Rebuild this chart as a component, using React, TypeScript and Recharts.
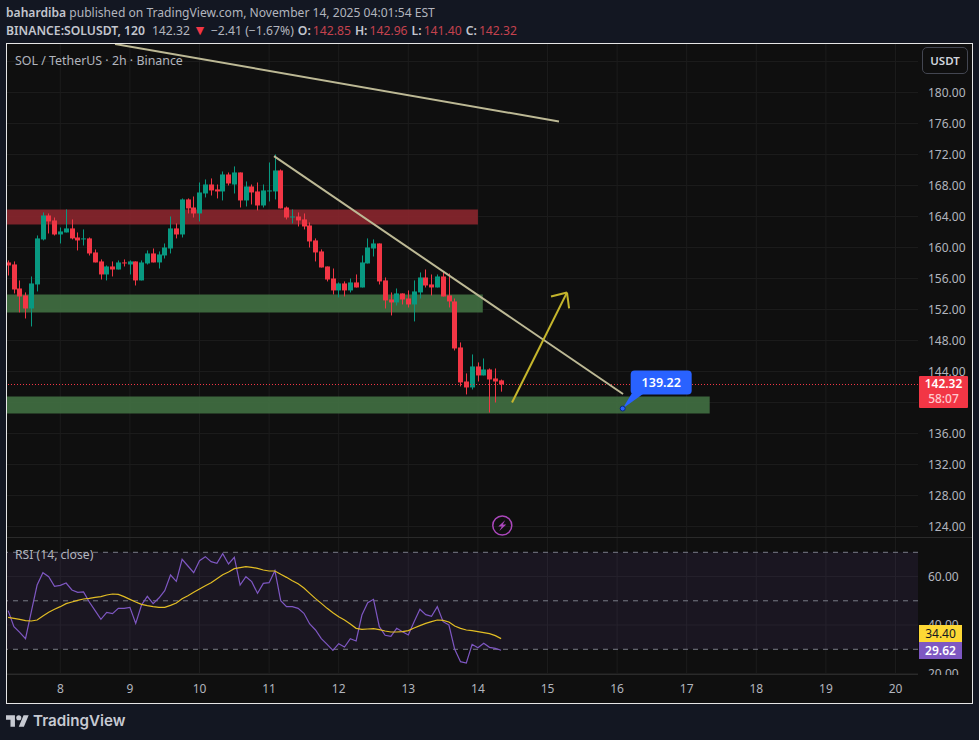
import {
  Bar,
  CartesianGrid,
  ComposedChart,
  Line,
  ReferenceArea,
  ReferenceDot,
  ReferenceLine,
  XAxis,
  YAxis
} from "recharts";

// 2h candles, first bar is Nov 7 06:00
const firstBarDay = 7.25;
const barStepDays = 1 / 12;

const opens = [
  158.07, 157.81, 154.71, 153.81, 152.13, 155.23, 161.04, 164.13, 163.49, 161.68,
  161.94, 162.46, 161.29, 161.04, 161.17, 159.36, 158.2, 156.52, 157.55, 157.16,
  158.07, 157.81, 158.2, 155.75, 157.94, 159.23, 158.07, 158.97, 159.87, 162.46,
  161.68, 166.2, 165.16, 164.39, 166.97, 168.13, 167.49, 167.23, 169.42, 168.13,
  169.68, 166.07, 167.87, 167.23, 165.42, 167.23, 167.23, 169.94, 165.16, 163.87,
  164.0, 163.62, 162.84, 160.91, 159.49, 157.55, 156.0, 154.46, 155.36, 154.46,
  155.49, 154.84, 157.94, 159.87, 160.52, 155.75, 153.29, 152.91, 154.07, 153.42,
  152.65, 154.2, 156.13, 155.23, 154.84, 156.26, 153.81, 153.04, 147.1, 142.71,
  141.94, 144.65, 143.49, 144.26, 143.1, 142.85
];
const highs = [
  158.33, 158.2, 155.75, 154.2, 156.26, 161.55, 164.52, 164.39, 163.87, 162.58,
  164.91, 163.62, 161.94, 162.33, 161.29, 159.75, 158.46, 157.68, 158.2, 158.33,
  158.46, 158.33, 158.2, 158.33, 159.62, 159.87, 159.49, 160.52, 164.0, 163.1,
  166.33, 166.33, 166.58, 168.39, 168.78, 168.91, 168.13, 169.81, 169.68, 170.46,
  169.68, 168.52, 168.13, 168.39, 168.13, 170.97, 172.0, 170.07, 165.29, 164.91,
  164.52, 164.39, 163.23, 161.17, 159.75, 157.55, 157.29, 155.49, 155.62, 156.0,
  156.52, 158.97, 161.17, 161.04, 160.52, 156.13, 154.2, 154.71, 154.07, 154.46,
  155.75, 156.78, 157.16, 156.52, 156.52, 156.91, 156.65, 153.42, 147.75, 143.75,
  146.2, 145.17, 145.68, 144.39, 144.39, 142.96
];
const lows = [
  156.39, 154.07, 151.62, 150.84, 149.81, 154.33, 160.91, 161.81, 161.55, 160.52,
  161.94, 161.04, 159.62, 160.26, 158.97, 158.07, 155.87, 155.75, 156.26, 157.16,
  157.55, 156.52, 155.1, 155.75, 157.81, 158.07, 157.29, 158.58, 159.23, 161.17,
  161.29, 164.39, 163.87, 163.36, 166.46, 166.71, 166.33, 166.07, 168.0, 166.97,
  165.16, 165.29, 165.55, 164.78, 165.16, 165.94, 166.2, 165.04, 163.62, 163.1,
  162.71, 162.33, 160.0, 158.2, 157.42, 155.62, 153.94, 153.55, 153.68, 154.2,
  154.84, 154.84, 157.94, 158.84, 155.23, 152.13, 151.23, 152.52, 152.65, 152.26,
  150.46, 153.42, 154.84, 153.81, 154.84, 153.68, 152.26, 146.71, 142.07, 141.04,
  141.68, 142.71, 143.49, 138.71, 140.0, 141.4
];
const closes = [
  157.68, 154.58, 153.68, 152.13, 155.36, 161.17, 164.13, 163.36, 161.68, 162.07,
  162.46, 161.17, 160.91, 161.17, 159.23, 158.07, 156.52, 157.55, 157.16, 158.07,
  157.94, 158.2, 155.75, 158.07, 159.23, 158.07, 159.1, 160.0, 162.46, 161.68,
  166.2, 165.04, 164.39, 167.1, 168.13, 167.36, 167.23, 169.42, 168.26, 169.68,
  166.07, 167.87, 167.1, 165.42, 167.36, 167.36, 169.94, 165.04, 163.87, 164.0,
  163.49, 162.71, 160.78, 159.36, 157.42, 155.87, 154.46, 155.36, 154.46, 155.49,
  154.84, 158.07, 160.0, 160.52, 155.62, 153.17, 152.91, 154.07, 153.29, 152.65,
  154.33, 156.13, 155.1, 154.84, 156.26, 153.68, 153.04, 146.97, 142.59, 141.94,
  144.65, 143.49, 144.26, 142.97, 142.71, 142.32
];
const rsiValues = [
  45.93, 39.33, 36.99, 34.38, 45.52, 56.51, 61.6, 59.95, 55.96, 56.38,
  57.34, 54.45, 53.49, 53.63, 49.5, 45.93, 42.35, 45.24, 44.69, 46.89,
  46.89, 47.3, 40.7, 48.27, 51.84, 48.82, 51.15, 54.18, 60.64, 58.02,
  67.1, 64.35, 61.6, 66.55, 68.2, 66.14, 65.45, 69.43, 65.17, 67.92,
  56.51, 59.95, 57.89, 53.08, 57.2, 57.48, 62.42, 50.05, 47.58, 47.58,
  46.89, 44.83, 40.43, 37.96, 34.38, 32.05, 29.57, 32.32, 30.95, 34.38,
  33.42, 44.14, 49.23, 50.6, 39.33, 35.76, 35.34, 38.64, 37.27, 35.89,
  41.39, 46.48, 44.28, 43.59, 47.58, 41.39, 40.02, 29.98, 24.9, 24.35,
  32.05, 30.67, 32.46, 30.81, 30.4, 29.62
];
const rsiMaValues = [
  43.18, 42.77, 42.35, 41.8, 41.67, 42.08, 43.73, 45.24, 46.48, 47.58,
  48.82, 49.5, 50.19, 50.74, 51.01, 51.43, 51.7, 52.39, 52.8, 52.66,
  51.7, 50.6, 49.5, 48.54, 47.99, 47.58, 47.3, 47.3, 48.13, 49.09,
  50.88, 52.11, 53.49, 54.86, 56.24, 57.48, 59.12, 60.77, 61.87, 63.25,
  63.66, 64.07, 63.8, 63.39, 62.7, 62.29, 62.29, 60.91, 59.67, 58.3,
  57.06, 55.28, 53.08, 50.88, 48.95, 46.89, 45.1, 43.45, 42.08, 40.43,
  38.64, 38.23, 38.37, 38.51, 38.09, 37.54, 37.13, 37.13, 37.27, 37.68,
  38.78, 39.74, 40.7, 41.39, 42.08, 41.94, 41.25, 39.6, 38.64, 37.96,
  37.68, 37.27, 36.86, 36.44, 35.62, 34.4
];

const dayTicks = [8, 9, 10, 11, 12, 13, 14, 15, 16, 17, 18, 19, 20];
const priceTicks = [184, 180, 176, 172, 168, 164, 160, 156, 152, 148, 144, 140, 136, 132, 128, 124];
const hiddenPriceLabels = [184, 140]; // sit under the USDT button and the price tag
const rsiTicks = [60, 40, 20];
const rsiLevels = [70, 50, 30];

const lastPrice = 142.32;

const candleData = opens.map((open, i) => ({
  day: firstBarDay + i * barStepDays,
  open,
  high: highs[i],
  low: lows[i],
  close: closes[i],
  range: [lows[i], highs[i]]
}));

const rsiData = rsiValues.map((rsi, i) => ({
  day: firstBarDay + i * barStepDays,
  rsi,
  ma: rsiMaValues[i]
}));

const dayDomain = [7.234, 20.323];
const priceDomain = [122.645, 186.255];
const rsiDomain = [19.6, 75.9];

const UP = "#089981";
const DOWN = "#f23645";
const GRID = "#1c1c1c";
const TEXT = "#b2b5be";
const FONT = "'Noto Sans', sans-serif";
const TREND = "#bdb995";
const ARROW = "#c4b52c";

function Candle(props: any) {
  const { x, y, width, height, payload } = props;
  const { open, close, high, low } = payload;
  const perUnit = height / (high - low);
  const top = y + (high - Math.max(open, close)) * perUnit;
  const bodyH = Math.max(Math.abs(open - close) * perUnit, 1);
  const cx = Math.round(x + width / 2);
  const color = close >= open ? UP : DOWN;
  return (
    <g>
      <rect x={cx} y={y} width={1} height={height} fill={color} />
      <rect x={cx - 2} y={top} width={5} height={bodyH} fill={color} />
    </g>
  );
}

function Callout(props: any) {
  const { cx, cy } = props;
  return (
    <g>
      <path d={`M${cx} ${cy}L${cx + 21} ${cy - 15}H${cx + 9}Z`} fill="#2962ff" />
      <rect x={cx + 8} y={cy - 38} width={61} height={24} rx={4} fill="#2962ff" />
      <circle cx={cx} cy={cy} r={2.5} fill="#2962ff" stroke="#0d2a7a" strokeWidth={1} />
      <text x={cx + 38.5} y={cy - 21.5} textAnchor="middle" fill="#fff" fontSize={12.5} fontWeight={600} fontFamily={FONT}>
        139.22
      </text>
    </g>
  );
}

function BoltMark(props: any) {
  const { cx, cy } = props;
  return (
    <g>
      <circle cx={cx} cy={cy} r={9.5} fill="none" stroke="#ab47bc" strokeWidth={1.5} />
      <path
        d={`M${cx + 3} ${cy - 5.5}L${cx - 4} ${cy + 1}H${cx - 0.5}L${cx - 3} ${cy + 5.5}L${cx + 4} ${cy - 1}H${cx + 0.5}Z`}
        fill="#ab47bc"
      />
    </g>
  );
}

function Box({ style, children }: { style: any; children?: any }) {
  return <div style={{ position: "absolute", ...style }}>{children}</div>;
}

export default function App() {
  const red = { color: "#c4424e" };
  const bold = { fontWeight: 600, color: "#c3c6ce" };
  const gap = { marginLeft: 4 };
  return (
    <div style={{ position: "absolute", left: 0, top: 0, width: 979, height: 740, background: "#131722", overflow: "hidden", fontFamily: FONT }}>
      <Box style={{ left: 6, top: 4, fontSize: 12.1, lineHeight: "17px", color: TEXT, whiteSpace: "nowrap" }}>
        <span style={bold}>bahardiba</span> published on TradingView.com, November 14, 2025 04:01:54 EST
      </Box>
      <Box style={{ left: 6, top: 21, fontSize: 12.2, lineHeight: "17px", color: TEXT, whiteSpace: "nowrap" }}>
        <span style={bold}>BINANCE:SOLUSDT, 120</span>
        <span style={{ marginLeft: 7 }}>142.32</span>
        <span style={{ color: DOWN, fontSize: 14, marginLeft: 3 }}>▼</span>
        <span style={gap}>−2.41 (−1.67%)</span>
        <span style={{ ...bold, ...gap }}>O:</span>
        <span style={{ ...red, marginLeft: 2 }}>142.85</span>
        <span style={{ ...bold, ...gap }}>H:</span>
        <span style={{ ...red, marginLeft: 2 }}>142.96</span>
        <span style={{ ...bold, ...gap }}>L:</span>
        <span style={{ ...red, marginLeft: 2 }}>141.40</span>
        <span style={{ ...bold, ...gap }}>C:</span>
        <span style={{ ...red, marginLeft: 2 }}>142.32</span>
      </Box>

      <Box style={{ left: 6, top: 43, width: 965, height: 659, background: "#0f0f0f", border: "1px solid #e6e6e6", boxSizing: "content-box" }} />

      <Box style={{ left: 7, top: 44 }}>
        <ComposedChart width={965} height={493} data={candleData} margin={{ top: 0, right: 0, bottom: 0, left: 0 }}>
          <CartesianGrid stroke={GRID} horizontalValues={priceTicks} verticalValues={dayTicks} />
          <XAxis dataKey="day" type="number" domain={dayDomain} allowDataOverflow ticks={dayTicks} hide />
          <YAxis
            orientation="right"
            width={54}
            domain={priceDomain}
            allowDataOverflow
            ticks={priceTicks}
            interval={0}
            axisLine={false}
            tickLine={false}
            tickMargin={4}
            tick={{ fill: TEXT, fontSize: 12, fontFamily: FONT }}
            tickFormatter={(v: number) => (hiddenPriceLabels.includes(v) ? "" : v.toFixed(2))}
          />
          <ReferenceArea x1={7.234} x2={14} y1={162.97} y2={164.9} fill="#84252c" fillOpacity={0.95} stroke="none" />
          <ReferenceArea x1={7.234} x2={14.07} y1={151.61} y2={153.94} fill="#3f6c40" fillOpacity={0.95} stroke="none" />
          <ReferenceArea x1={7.234} x2={17.33} y1={138.58} y2={140.77} fill="#3f6c40" fillOpacity={0.95} stroke="none" />
          <ReferenceLine y={lastPrice} stroke={DOWN} strokeDasharray="1 2" />
          <Bar dataKey="range" barSize={5} shape={Candle} isAnimationActive={false} />
          <ReferenceLine segment={[{ x: 8.786, y: 186.255 }, { x: 15.165, y: 176.26 }]} stroke={TREND} strokeWidth={2} ifOverflow="visible" />
          <ReferenceLine segment={[{ x: 11.07, y: 171.78 }, { x: 16.085, y: 141.1 }]} stroke={TREND} strokeWidth={2} ifOverflow="visible" />
          <ReferenceLine segment={[{ x: 14.49, y: 140 }, { x: 15.28, y: 154.19 }]} stroke={ARROW} strokeWidth={2} ifOverflow="visible" />
          <ReferenceLine segment={[{ x: 15.05, y: 153.68 }, { x: 15.28, y: 154.19 }]} stroke={ARROW} strokeWidth={2} ifOverflow="visible" />
          <ReferenceLine segment={[{ x: 15.31, y: 152.13 }, { x: 15.28, y: 154.19 }]} stroke={ARROW} strokeWidth={2} ifOverflow="visible" />
          <ReferenceDot x={16.08} y={139.22} r={3} shape={Callout} ifOverflow="visible" />
          <ReferenceDot x={14.35} y={124.13} r={9} shape={BoltMark} ifOverflow="visible" />
        </ComposedChart>
      </Box>

      <Box style={{ left: 7, top: 537, width: 965, height: 1, background: "#2a2a2a" }} />

      <Box style={{ left: 7, top: 538 }}>
        <ComposedChart width={965} height={165} data={rsiData} margin={{ top: 0, right: 0, bottom: 0, left: 0 }}>
          <CartesianGrid stroke={GRID} horizontalValues={rsiTicks} verticalValues={dayTicks} />
          <XAxis
            dataKey="day"
            type="number"
            domain={dayDomain}
            allowDataOverflow
            ticks={dayTicks}
            interval={0}
            height={28.5}
            axisLine={false}
            tickLine={false}
            tickMargin={4}
            tick={{ fill: TEXT, fontSize: 12, fontFamily: FONT }}
          />
          <YAxis
            orientation="right"
            width={54}
            domain={rsiDomain}
            allowDataOverflow
            ticks={rsiTicks}
            interval={0}
            axisLine={false}
            tickLine={false}
            tickMargin={4}
            tick={{ fill: TEXT, fontSize: 12, fontFamily: FONT }}
            tickFormatter={(v: number) => v.toFixed(2)}
          />
          <ReferenceArea y1={30} y2={70} fill="#7e57c2" fillOpacity={0.1} stroke="none" />
          {rsiLevels.map((level) => (
            <ReferenceLine key={level} y={level} stroke="#787b86" strokeDasharray="5 5" />
          ))}
          <Line dataKey="rsi" stroke="#7e57c2" strokeWidth={1.2} dot={false} isAnimationActive={false} />
          <Line dataKey="ma" stroke="#e2bd24" strokeWidth={1.2} dot={false} isAnimationActive={false} />
        </ComposedChart>
      </Box>

      <Box style={{ left: 7, top: 674, width: 911, height: 1, background: "#2a2a2a" }} />
      <Box style={{ left: 919, top: 675, width: 52, height: 27, background: "#0f0f0f" }} />

      <Box style={{ left: 15, top: 52, fontSize: 12.4, lineHeight: "18px", color: TEXT, whiteSpace: "nowrap" }}>SOL / TetherUS · 2h · Binance</Box>
      <Box style={{ left: 15, top: 546, fontSize: 12.2, lineHeight: "18px", color: TEXT, whiteSpace: "nowrap" }}>RSI (14, close)</Box>

      <Box style={{ left: 922, top: 47, width: 46, height: 27, boxSizing: "border-box", border: "1px solid #434651", borderRadius: 5, background: "#0f0f0f", color: "#d1d4dc", fontSize: 11.5, fontWeight: 600, textAlign: "center", lineHeight: "25px" }}>
        USDT
      </Box>

      <Box style={{ left: 919, top: 376, width: 49, height: 31, background: DOWN, borderRadius: 1, color: "#fff", fontSize: 12, fontWeight: 600, lineHeight: "14.5px", textAlign: "center", paddingTop: 1 }}>
        142.32
        <div style={{ color: "#ffc9ce", fontWeight: 500 }}>58:07</div>
      </Box>
      <Box style={{ left: 919, top: 625, width: 43, height: 17, background: "#fdd835", color: "#131722", fontSize: 12, lineHeight: "17px", textAlign: "center" }}>34.40</Box>
      <Box style={{ left: 919, top: 642, width: 43, height: 17, background: "#7e57c2", color: "#fff", fontSize: 12, fontWeight: 600, lineHeight: "17px", textAlign: "center" }}>29.62</Box>

      <Box style={{ left: 6, top: 715 }}>
        <svg width={23} height={12} viewBox="0 4 36 18" style={{ display: "block" }}>
          <path d="M14 22H7V11H0V4h14v18zM28 22h-8l7.5-18h8L28 22z" fill="#c7cad2" />
          <circle cx={20} cy={8} r={4} fill="#c7cad2" />
        </svg>
      </Box>
      <Box style={{ left: 33, top: 711, fontSize: 15.2, lineHeight: "20px", fontWeight: 600, fontFamily: "Inter, sans-serif", color: "#c7cad2", whiteSpace: "nowrap" }}>TradingView</Box>
    </div>
  );
}
